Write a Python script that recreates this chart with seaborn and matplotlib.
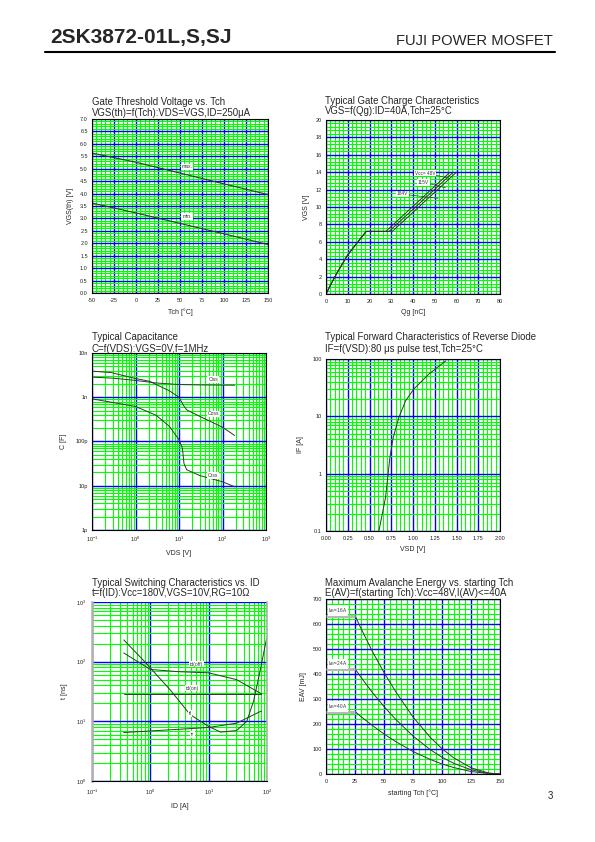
import numpy as np
import pandas as pd
import seaborn as sns
import matplotlib.pyplot as plt
from matplotlib.ticker import MultipleLocator, LogLocator, NullFormatter, FixedLocator, FixedFormatter

# --- data ---
vth_tch = [-50, 0, 100, 150]
vth_max = [5.63, 5.26, 4.39, 3.96]
vth_min = [3.62, 3.22, 2.38, 1.95]

qg_rise = [0, 2, 5, 10, 15, 18.5]
vgs_rise = [0, 1.0, 2.4, 4.5, 6.1, 7.2]
vcc_names = ['48V', '115V', '184V']
qg_plateau_end = [27.5, 29.0, 30.5]
qg_end = [57.0, 58.5, 60.0]
vgs_plateau = 7.2
vgs_end = 14.0

vds_ciss = [0.1, 0.3, 1, 3, 10, 30, 190]
ciss = [2.85e-9, 2.7e-9, 2.4e-9, 2.1e-9, 1.94e-9, 1.9e-9, 1.87e-9]
vds_coss = [0.1, 0.28, 1, 2.1, 3.5, 6, 10, 12.6, 15, 30, 100, 190]
coss = [3.9e-9, 3.6e-9, 2.65e-9, 2.3e-9, 1.8e-9, 1.4e-9, 1.0e-9, 0.66e-9, 0.52e-9, 0.37e-9, 0.21e-9, 0.137e-9]
vds_crss = [0.1, 1, 3, 6, 10, 12, 13, 15, 30, 100, 190]
crss = [0.92e-9, 0.62e-9, 0.39e-9, 0.22e-9, 0.11e-9, 0.07e-9, 0.032e-9, 0.023e-9, 17e-12, 12.3e-12, 9.5e-12]

vsd = [0.608, 0.685, 0.735, 0.773, 0.838, 0.915, 1.01, 1.185, 1.377]
i_f = [0.1, 0.39, 1.95, 4.3, 9.6, 18.7, 30, 55, 93]

id_off = [0.35, 1, 3, 10, 30, 80]
t_off = [140, 74, 68, 65, 50, 29]
id_on = [0.35, 80]
t_on = [29, 29]
id_tf = [0.35, 0.8, 2.2, 4.8, 10, 16, 30, 45, 59, 77, 98]
t_tf = [232, 100, 33.5, 13, 8.2, 6.6, 7.0, 10, 22, 74, 240]
id_tr = [0.35, 1, 4.3, 10, 30, 80]
t_tr = [6.5, 6.9, 7.5, 7.9, 9.3, 14.9]

tch_av = [25, 30, 40, 50, 60, 75, 90, 100, 110, 125, 140, 150]
eav_16 = [634, 584, 490, 406, 330, 228, 146, 101, 65, 25, 4, 0]
eav_24 = [421, 388, 326, 270, 219, 152, 97, 67, 43, 17, 3, 0]
eav_40 = [250, 230, 194, 160, 130, 90, 58, 40, 26, 10, 2, 0]
iav_names = ['16A', '24A', '40A']

sns.set_theme(style='white')
plt.rcParams['font.family'] = ['Liberation Sans', 'DejaVu Sans']
plt.rcParams['mathtext.fontset'] = 'custom'
plt.rcParams['mathtext.rm'] = 'Liberation Sans'
plt.rcParams['mathtext.it'] = 'Liberation Sans:italic'
plt.rcParams['axes.unicode_minus'] = False

W, H = 595, 842
fig = plt.figure(figsize=(5.95, 8.42), dpi=100)

GREEN = '#00ff00'
BLUE = '#0000ff'
LINE = '#333333'
TICK_FS = 4
LAB_FS = 5
TITLE_FS = 6.9


def px_axes(x0, y0, x1, y1):
    return fig.add_axes([x0 / W, 1 - y1 / H, (x1 - x0) / W, (y1 - y0) / H])


def ftext(x, y, s, **kw):
    fig.text(x / W, 1 - y / H, s, **kw)


def style(ax):
    ax.set_axisbelow(True)
    ax.grid(which='minor', color=GREEN, lw=0.8)
    ax.grid(which='major', color=BLUE, lw=1.0)
    ax.tick_params(which='both', length=0, labelsize=TICK_FS, colors='#222222')
    ax.tick_params(axis='x', pad=3.5)
    ax.tick_params(axis='y', pad=3)
    for s in ax.spines.values():
        s.set_color('black')
        s.set_linewidth(0.8)


def lin_grid(ax, xmaj, xmin, ymaj, ymin):
    ax.xaxis.set_major_locator(MultipleLocator(xmaj))
    ax.xaxis.set_minor_locator(MultipleLocator(xmin))
    ax.yaxis.set_major_locator(MultipleLocator(ymaj))
    ax.yaxis.set_minor_locator(MultipleLocator(ymin))
    style(ax)


def log_minor(axis):
    axis.set_minor_locator(LogLocator(base=10, subs=np.arange(2, 10), numticks=20))
    axis.set_minor_formatter(NullFormatter())


def titles(x, y1, y2, t1, t2):
    ftext(x, y1, t1, fontsize=TITLE_FS, va='center', ha='left')
    ftext(x, y2, t2, fontsize=TITLE_FS, va='center', ha='left')


def label(ax, x, y, s, fs=3.6):
    ax.text(x, y, s, fontsize=fs, ha='center', va='center', color='#333333',
            bbox=dict(facecolor='white', edgecolor='none', pad=0.6), zorder=5)


# header
ftext(50, 38, '2SK3872-01L,S,SJ', fontsize=15, fontweight='bold', va='center', ha='left')
ftext(553, 41, 'FUJI POWER MOSFET', fontsize=10.6, va='center', ha='right')
fig.add_artist(plt.Line2D([45 / W, 555 / W], [1 - 52 / H, 1 - 52 / H], color='black', lw=1.5))
ftext(550, 796, '3', fontsize=7, va='center', ha='center')

# 1. gate threshold voltage
ax1 = px_axes(92, 119, 268, 293)
df1 = pd.DataFrame({'Tch': vth_tch * 2, 'VGS': vth_max + vth_min,
                    'kind': ['max.'] * 4 + ['min.'] * 4})
sns.lineplot(data=df1, x='Tch', y='VGS', hue='kind', palette=[LINE, LINE],
             estimator=None, lw=0.8, legend=False, ax=ax1)
ax1.set_xlim(-50, 150)
ax1.set_ylim(0, 7)
lin_grid(ax1, 25, 5, 0.5, 0.1)
ax1.set_yticks(np.arange(0, 7.01, 0.5))
ax1.set_yticklabels([f'{v:.1f}' for v in np.arange(0, 7.01, 0.5)])
ax1.set_xlabel('Tch [°C]', fontsize=LAB_FS, labelpad=4)
ax1.set_ylabel('VGS(th) [V]', fontsize=LAB_FS, labelpad=4)
label(ax1, 58, 5.07, 'max.')
label(ax1, 58, 3.09, 'min.')
titles(92, 102, 113.5, 'Gate Threshold Voltage vs. Tch', 'VGS(th)=f(Tch):VDS=VGS,ID=250μA')

# 2. gate charge
ax2 = px_axes(326, 120, 500, 294)
rows = []
for name, qp, qe in zip(vcc_names, qg_plateau_end, qg_end):
    xs = qg_rise + [qp, qe]
    ys = vgs_rise + [vgs_plateau, vgs_end]
    rows.append(pd.DataFrame({'Qg': xs, 'VGS': ys, 'Vcc': name}))
df2 = pd.concat(rows)
sns.lineplot(data=df2, x='Qg', y='VGS', hue='Vcc', palette=[LINE] * 3,
             estimator=None, lw=0.7, legend=False, ax=ax2)
ax2.set_xlim(0, 80)
ax2.set_ylim(0, 20)
lin_grid(ax2, 10, 2, 2, 0.4)
ax2.set_xlabel('Qg [nC]', fontsize=LAB_FS, labelpad=4)
ax2.set_ylabel('VGS [V]', fontsize=LAB_FS, labelpad=4)
for (tx, ty, s), (lx, ly) in zip([(45.5, 13.9, 'Vcc= 48V'), (44.8, 12.8, '115V'), (35.2, 11.5, '184V')],
                                 [(56.5, 13.3), (55.0, 12.2), (51.5, 11.0)]):
    ax2.plot([tx + 2.5, lx], [ty - 0.1, ly], color=LINE, lw=0.5)
    label(ax2, tx, ty, s, fs=3.4)
titles(325, 100.5, 111.5, 'Typical Gate Charge Characteristics', 'VGS=f(Qg):ID=40A,Tch=25°C')

# 3. capacitance
ax3 = px_axes(92, 353, 266, 530)
df3 = pd.concat([pd.DataFrame({'VDS': vds_ciss, 'C': ciss, 'cap': 'Ciss'}),
                 pd.DataFrame({'VDS': vds_coss, 'C': coss, 'cap': 'Coss'}),
                 pd.DataFrame({'VDS': vds_crss, 'C': crss, 'cap': 'Crss'})])
sns.lineplot(data=df3, x='VDS', y='C', hue='cap', palette=[LINE] * 3,
             estimator=None, lw=0.7, legend=False, ax=ax3)
ax3.set_xscale('log')
ax3.set_yscale('log')
ax3.set_xlim(0.1, 1000)
ax3.set_ylim(1e-12, 1e-8)
ax3.xaxis.set_major_locator(FixedLocator([0.1, 1, 10, 100, 1000]))
ax3.xaxis.set_major_formatter(FixedFormatter(['$10^{-1}$', '$10^{0}$', '$10^{1}$', '$10^{2}$', '$10^{3}$']))
ax3.yaxis.set_major_locator(FixedLocator([1e-12, 1e-11, 1e-10, 1e-9, 1e-8]))
ax3.yaxis.set_major_formatter(FixedFormatter(['1p', '10p', '100p', '1n', '10n']))
log_minor(ax3.xaxis)
log_minor(ax3.yaxis)
style(ax3)
ax3.set_xlabel('VDS [V]', fontsize=LAB_FS, labelpad=4)
ax3.set_ylabel('C [F]', fontsize=LAB_FS, labelpad=6)
label(ax3, 61, 2.5e-9, 'Ciss')
label(ax3, 61, 0.42e-9, 'Coss')
label(ax3, 61, 17e-12, 'Crss')
titles(92, 337.5, 348.5, 'Typical Capacitance', 'C=f(VDS):VGS=0V,f=1MHz')

# 4. reverse diode
ax4 = px_axes(326, 359, 500, 531)
df4 = pd.DataFrame({'VSD': vsd, 'IF': i_f})
sns.lineplot(data=df4, x='VSD', y='IF', color=LINE, estimator=None, lw=0.7, ax=ax4)
ax4.set_yscale('log')
ax4.set_xlim(0, 2)
ax4.set_ylim(0.1, 100)
ax4.xaxis.set_minor_locator(MultipleLocator(0.05))
ax4.set_xticks(np.arange(0, 2.01, 0.25))
ax4.set_xticklabels([f'{v:.2f}' for v in np.arange(0, 2.01, 0.25)])
ax4.yaxis.set_major_locator(FixedLocator([0.1, 1, 10, 100]))
ax4.yaxis.set_major_formatter(FixedFormatter(['0.1', '1', '10', '100']))
log_minor(ax4.yaxis)
style(ax4)
ax4.set_xlabel('VSD [V]', fontsize=LAB_FS, labelpad=4)
ax4.set_ylabel('IF [A]', fontsize=LAB_FS, labelpad=6)
titles(325, 337.5, 348.5, 'Typical Forward Characteristics of Reverse Diode',
       'IF=f(VSD):80 μs pulse test,Tch=25°C')

# 5. switching
ax5 = px_axes(92, 602, 267, 781)
df5 = pd.concat([pd.DataFrame({'ID': id_off, 't': t_off, 'k': 'td(off)'}),
                 pd.DataFrame({'ID': id_on, 't': t_on, 'k': 'td(on)'}),
                 pd.DataFrame({'ID': id_tf, 't': t_tf, 'k': 'tf'}),
                 pd.DataFrame({'ID': id_tr, 't': t_tr, 'k': 'tr'})])
sns.lineplot(data=df5, x='ID', y='t', hue='k', palette=[LINE] * 4,
             estimator=None, lw=0.7, legend=False, ax=ax5)
ax5.set_xscale('log')
ax5.set_yscale('log')
ax5.set_xlim(0.1, 100)
ax5.set_ylim(1, 1000)
ax5.xaxis.set_major_locator(FixedLocator([0.1, 1, 10, 100]))
ax5.xaxis.set_major_formatter(FixedFormatter(['$10^{-1}$', '$10^{0}$', '$10^{1}$', '$10^{2}$']))
ax5.yaxis.set_major_locator(FixedLocator([1, 10, 100, 1000]))
ax5.yaxis.set_major_formatter(FixedFormatter(['$10^{0}$', '$10^{1}$', '$10^{2}$', '$10^{3}$']))
log_minor(ax5.xaxis)
log_minor(ax5.yaxis)
style(ax5)
ax5.tick_params(axis='x', pad=5)
ax5.tick_params(axis='y', pad=4)
ax5.spines['left'].set_color('#b0b0b0')
ax5.spines['left'].set_linewidth(1.8)
ax5.spines['right'].set_color('#b0b0b0')
ax5.spines['right'].set_linewidth(1.2)
ax5.spines['top'].set_visible(False)
ax5.set_xlabel('ID [A]', fontsize=LAB_FS, labelpad=4)
ax5.set_ylabel('t [ns]', fontsize=LAB_FS, labelpad=6)
label(ax5, 6.3, 91, 'td(off)')
label(ax5, 5.2, 36, 'td(on)')
label(ax5, 4.8, 13.4, 'tf')
label(ax5, 5.2, 6.0, 'tr')
titles(92, 582.5, 593.5, 'Typical Switching Characteristics vs. ID', 't=f(ID):Vcc=180V,VGS=10V,RG=10Ω')

# 6. avalanche energy
ax6 = px_axes(326, 599, 500, 774)
df6 = pd.concat([pd.DataFrame({'Tch': tch_av, 'EAV': e, 'IAV': n})
                 for e, n in zip([eav_16, eav_24, eav_40], iav_names)])
sns.lineplot(data=df6, x='Tch', y='EAV', hue='IAV', palette=[LINE] * 3,
             estimator=None, lw=0.7, legend=False, ax=ax6)
ax6.set_xlim(0, 150)
ax6.set_ylim(0, 700)
lin_grid(ax6, 25, 5, 100, 20)
for e, n in zip([eav_16, eav_24, eav_40], iav_names):
    ax6.hlines(e[0], 0, tch_av[0], color='#b8b8b8', lw=2.2, zorder=3)
    ax6.text(2, e[0] + 20, 'I$_{AV}$=' + n, fontsize=3.4, ha='left', va='center', color='#333333',
             bbox=dict(facecolor='white', edgecolor='none', pad=0.5), zorder=5)
ax6.set_xlabel('starting Tch [°C]', fontsize=LAB_FS, labelpad=4)
ax6.set_ylabel('EAV [mJ]', fontsize=LAB_FS, labelpad=4)
titles(325, 582.5, 593.5, 'Maximum Avalanche Energy vs. starting Tch',
       'E(AV)=f(starting Tch):Vcc=48V,I(AV)<=40A')

fig.savefig('out.png', dpi=100)
